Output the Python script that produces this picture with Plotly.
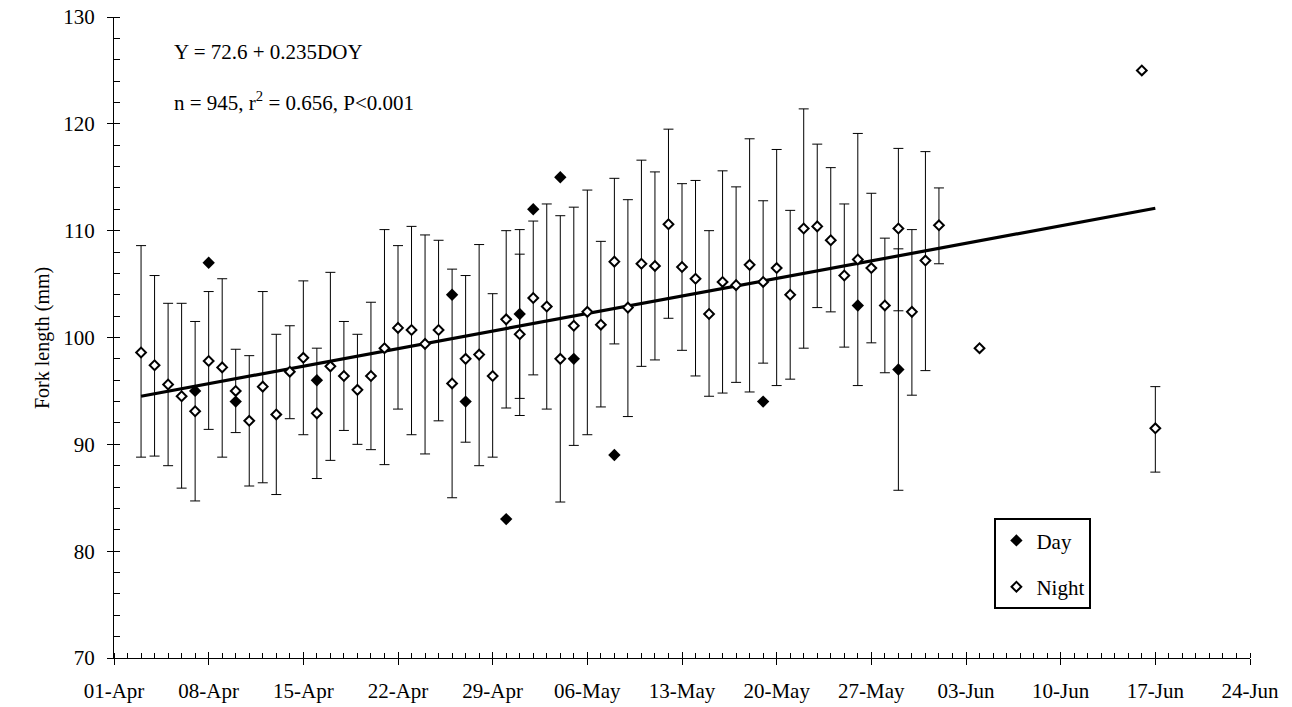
import plotly.graph_objects as go

FONT = "Liberation Serif"

# ---------------- data ----------------
night_dates = [
    "2003-04-03", "2003-04-04", "2003-04-05", "2003-04-06", "2003-04-07", "2003-04-08",
    "2003-04-09", "2003-04-10", "2003-04-11", "2003-04-12", "2003-04-13", "2003-04-14",
    "2003-04-15", "2003-04-16", "2003-04-17", "2003-04-18", "2003-04-19", "2003-04-20",
    "2003-04-21", "2003-04-22", "2003-04-23", "2003-04-24", "2003-04-25", "2003-04-26",
    "2003-04-27", "2003-04-28", "2003-04-29", "2003-04-30", "2003-05-01", "2003-05-02",
    "2003-05-03", "2003-05-04", "2003-05-05", "2003-05-06", "2003-05-07", "2003-05-08",
    "2003-05-09", "2003-05-10", "2003-05-11", "2003-05-12", "2003-05-13", "2003-05-14",
    "2003-05-15", "2003-05-16", "2003-05-17", "2003-05-18", "2003-05-19", "2003-05-20",
    "2003-05-21", "2003-05-22", "2003-05-23", "2003-05-24", "2003-05-25", "2003-05-26",
    "2003-05-27", "2003-05-28", "2003-05-29", "2003-05-30", "2003-05-31", "2003-06-01",
    "2003-06-17",
]
night_mean = [
    98.6, 97.4, 95.6, 94.5, 93.1, 97.8,
    97.2, 95.0, 92.2, 95.4, 92.8, 96.8,
    98.1, 92.9, 97.3, 96.4, 95.1, 96.4,
    99.0, 100.9, 100.7, 99.4, 100.7, 95.7,
    98.0, 98.4, 96.4, 101.7, 100.3, 103.7,
    102.9, 98.0, 101.1, 102.4, 101.2, 107.1,
    102.8, 106.9, 106.7, 110.6, 106.6, 105.5,
    102.2, 105.2, 104.9, 106.8, 105.2, 106.5,
    104.0, 110.2, 110.4, 109.1, 105.8, 107.3,
    106.5, 103.0, 110.2, 102.4, 107.2, 110.5,
    91.5,
]
night_upper = [
    108.6, 105.8, 103.2, 103.2, 101.5, 104.3,
    105.5, 98.9, 98.3, 104.3, 100.3, 101.1,
    105.3, 99.0, 106.1, 101.5, 100.3, 103.3,
    110.1, 108.6, 110.4, 109.6, 109.1, 106.4,
    105.8, 108.7, 104.1, 110.0, 110.1, 110.9,
    112.5, 111.4, 112.2, 113.8, 109.0, 114.9,
    112.9, 116.6, 115.5, 119.5, 114.4, 114.7,
    110.0, 115.6, 114.1, 118.6, 112.8, 117.6,
    111.9, 121.4, 118.1, 115.9, 112.5, 119.1,
    113.5, 109.3, 117.7, 110.1, 117.4, 114.0,
    95.4,
]
night_lower = [
    88.8, 88.9, 88.0, 85.9, 84.7, 91.4,
    88.8, 91.1, 86.1, 86.4, 85.3, 92.4,
    90.9, 86.8, 88.5, 91.3, 90.0, 89.5,
    88.1, 93.3, 90.9, 89.1, 92.2, 85.0,
    90.2, 88.0, 88.8, 93.4, 92.7, 96.5,
    93.3, 84.6, 89.9, 90.9, 93.5, 99.4,
    92.6, 97.3, 97.9, 101.8, 98.8, 96.4,
    94.5, 94.8, 95.8, 94.9, 97.6, 95.5,
    96.1, 99.0, 102.8, 102.4, 99.1, 95.5,
    99.5, 96.7, 102.5, 94.6, 96.9, 106.9,
    87.4,
]

night_single_dates = ["2003-06-04", "2003-06-16"]
night_single_vals = [99.0, 125.0]

day_dates = [
    "2003-04-07", "2003-04-08", "2003-04-10", "2003-04-16", "2003-04-26", "2003-04-27",
    "2003-04-30", "2003-05-02", "2003-05-04", "2003-05-05", "2003-05-08", "2003-05-19",
    "2003-05-26",
]
day_vals = [95.0, 107.0, 94.0, 96.0, 104.0, 94.0, 83.0, 112.0, 115.0, 98.0, 89.0, 94.0, 103.0]

day_err_dates = ["2003-05-01", "2003-05-29"]
day_err_mean = [102.2, 97.0]
day_err_upper = [107.8, 108.3]
day_err_lower = [94.3, 85.7]

fit_dates = ["2003-04-03", "2003-06-17"]
fit_vals = [94.5, 112.1]

x_range = ["2003-04-01", "2003-06-24"]
y_range = [70, 130]

eq_line1 = "Y = 72.6 + 0.235DOY"
eq_line2 = "n = 945, r<sup>2</sup> = 0.656, P&lt;0.001"
y_title = "Fork length (mm)"

# ---------------- figure ----------------
night_plus = [u - m for u, m in zip(night_upper, night_mean)]
night_minus = [m - l for m, l in zip(night_mean, night_lower)]
day_plus = [u - m for u, m in zip(day_err_upper, day_err_mean)]
day_minus = [m - l for m, l in zip(day_err_mean, day_err_lower)]

err_style = dict(color="black", thickness=1, width=5)
night_marker = dict(symbol="diamond", size=7.5, color="white",
                    line=dict(color="black", width=2))
day_marker = dict(symbol="diamond", size=9.5, color="black",
                  line=dict(color="black", width=0))

fig = go.Figure()

fig.add_trace(go.Scatter(
    x=fit_dates, y=fit_vals, mode="lines",
    line=dict(color="black", width=3.2), showlegend=False, hoverinfo="skip"))

fig.add_trace(go.Scatter(
    x=day_err_dates, y=day_err_mean, mode="markers", marker=day_marker,
    error_y=dict(type="data", symmetric=False, array=day_plus, arrayminus=day_minus, **err_style),
    showlegend=False, legendgroup="day"))

fig.add_trace(go.Scatter(
    x=night_dates, y=night_mean, mode="markers", marker=night_marker,
    error_y=dict(type="data", symmetric=False, array=night_plus, arrayminus=night_minus, **err_style),
    name="Night", legendgroup="night", legendrank=2))

fig.add_trace(go.Scatter(
    x=night_single_dates, y=night_single_vals, mode="markers", marker=night_marker,
    showlegend=False, legendgroup="night"))

fig.add_trace(go.Scatter(
    x=day_dates, y=day_vals, mode="markers", marker=day_marker,
    name="Day", legendgroup="day", legendrank=1))

# empty trace for overlay axes (inner halves of the major ticks)
fig.add_trace(go.Scatter(x=[], y=[], xaxis="x2", yaxis="y2", showlegend=False))

axis_font = dict(family=FONT, size=21, color="black")

fig.update_layout(
    width=1292, height=707,
    margin=dict(l=114, r=42, t=17, b=49, autoexpand=False),
    plot_bgcolor="white", paper_bgcolor="white",
    font=dict(family=FONT, size=21, color="black"),
    showlegend=True,
    legend=dict(
        x=0.775, y=0.218, xanchor="left", yanchor="top",
        bordercolor="black", borderwidth=2, bgcolor="white",
        font=dict(family=FONT, size=21, color="black"),
        tracegroupgap=16, itemwidth=30,
    ),
    xaxis=dict(
        type="date", range=x_range, automargin=False,
        tick0="2003-04-01", dtick=7 * 86400000, tickformat="%d-%b",
        ticks="outside", ticklen=6, tickwidth=1, tickcolor="black",
        showline=True, linecolor="black", linewidth=1.2,
        showgrid=False, zeroline=False, tickfont=axis_font,
        ticklabelstandoff=8,
        minor=dict(dtick=86400000, tick0="2003-04-01", ticks="inside",
                   ticklen=5, tickwidth=1, tickcolor="black", showgrid=False),
    ),
    yaxis=dict(
        range=y_range, tick0=70, dtick=10, automargin=False,
        ticks="outside", ticklen=6, tickwidth=1, tickcolor="black",
        showline=True, linecolor="black", linewidth=1.2,
        showgrid=False, zeroline=False, tickfont=axis_font,
        ticklabelstandoff=8,
        minor=dict(dtick=2, ticks="inside", ticklen=6, tickwidth=1,
                   tickcolor="black", showgrid=False),
    ),
    xaxis2=dict(
        type="date", overlaying="x", matches="x", anchor="y2", side="bottom",
        tick0="2003-04-01", dtick=7 * 86400000, automargin=False,
        ticks="inside", ticklen=6, tickwidth=1, tickcolor="black",
        showticklabels=False, showline=False, showgrid=False, zeroline=False,
    ),
    yaxis2=dict(
        overlaying="y", matches="y", anchor="x2", side="left",
        tick0=70, dtick=10, automargin=False,
        ticks="inside", ticklen=6, tickwidth=1, tickcolor="black",
        showticklabels=False, showline=False, showgrid=False, zeroline=False,
    ),
)

fig.add_annotation(
    text=eq_line1, xref="paper", yref="paper", x=0.051, y=0.9454,
    xanchor="left", yanchor="middle", showarrow=False,
    font=dict(family=FONT, size=21, color="black"))
fig.add_annotation(
    text=eq_line2, xref="paper", yref="paper", x=0.051, y=0.8674,
    xanchor="left", yanchor="middle", showarrow=False,
    font=dict(family=FONT, size=21, color="black"))
fig.add_annotation(
    text=y_title, xref="paper", yref="paper", x=(42 - 114) / 1136, y=(658 - 338) / 641,
    xanchor="center", yanchor="middle", textangle=-90, showarrow=False,
    font=dict(family=FONT, size=20, color="black"))

fig.write_html("out.html")
